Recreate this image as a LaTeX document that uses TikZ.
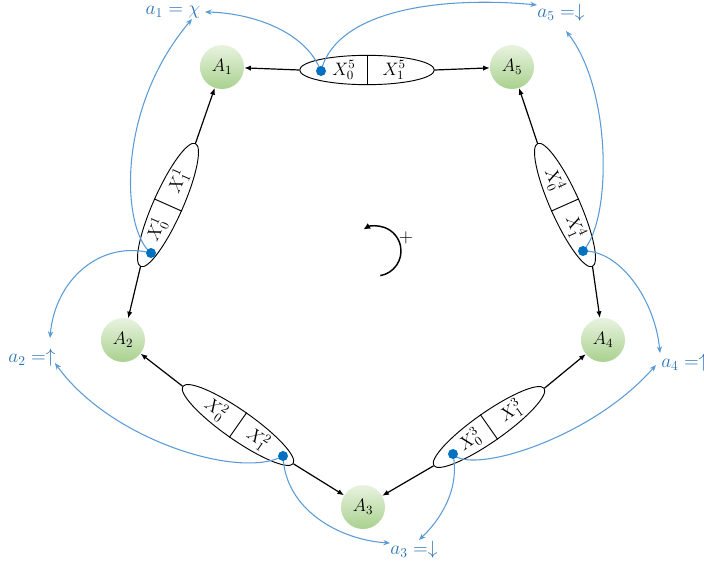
\RequirePackage{fix-cm}
\documentclass[tikz,border=0pt]{standalone}
\usepackage{amsmath}
\usepackage{amssymb}
\usepackage{tikz}
\usetikzlibrary{calc}
\usetikzlibrary{arrows.meta}
\usetikzlibrary{shapes.geometric}

\definecolor{linkblue}{HTML}{5B9BD5}
\definecolor{labelblue}{HTML}{2E75B6}
\definecolor{dotblue}{HTML}{0070C0}
\definecolor{agentlight}{HTML}{E8F3E0}
\definecolor{agentdark}{HTML}{A9D18E}

\tikzset{
  agent/.style={circle,minimum size=33pt,inner sep=0pt,top color=agentlight,bottom color=agentdark,font=\fontsize{13.5}{15}\selectfont},
  pair/.style={ellipse,draw,line width=0.7pt,minimum width=101pt,minimum height=22pt,inner sep=0pt},
  cell/.style={font=\fontsize{13.5}{15}\selectfont,inner sep=0pt},
  flow/.style={-{Latex[length=5pt,width=4pt]},line width=0.9pt},
  link/.style={linkblue,line width=0.8pt,-{Stealth[length=5pt,width=4pt]}},
  pick/.style={circle,fill=dotblue,minimum size=7.5pt,inner sep=0pt},
  value/.style={labelblue,font=\fontsize{14.5}{16}\selectfont,inner sep=0pt}
}

\begin{document}
\begin{tikzpicture}[x=0.75pt,y=-0.75pt]
    \useasboundingbox (0,0) rectangle (704,567);

    \node[agent] (A1) at (222,67) {$A_1$};
    \node[agent] (A5) at (512,67) {$A_5$};
    \node[agent] (A2) at (123,340) {$A_2$};
    \node[agent] (A4) at (603,340) {$A_4$};
    \node[agent] (A3) at (363,507) {$A_3$};

    \node[pair] (E5) at (367,70) {};
    \node[pair,rotate=66] (E1) at (168,205) {};
    \node[pair,rotate=-35] (E2) at (238,425) {};
    \node[pair,rotate=35] (E3) at (489,427) {};
    \node[pair,rotate=-66] (E4) at (565,205) {};

    \draw[line width=0.7pt] (E5.north) -- (E5.south);
    \draw[line width=0.7pt] (E1.north) -- (E1.south);
    \draw[line width=0.7pt] (E2.north) -- (E2.south);
    \draw[line width=0.7pt] (E3.north) -- (E3.south);
    \draw[line width=0.7pt] (E4.north) -- (E4.south);

    \node[cell] (X50) at ($(E5.center)!0.34!(E5.west)$) {$X_0^5$};
    \node[cell] (X51) at ($(E5.center)!0.4!(E5.east)$) {$X_1^5$};
    \node[cell,rotate=66] (X10) at ($(E1.center)!0.4!(E1.west)$) {$X_0^1$};
    \node[cell,rotate=66] (X11) at ($(E1.center)!0.38!(E1.east)$) {$X_1^1$};
    \node[cell,rotate=-35] (X20) at ($(E2.center)!0.4!(E2.west)$) {$X_0^2$};
    \node[cell,rotate=-35] (X21) at ($(E2.center)!0.36!(E2.east)$) {$X_1^2$};
    \node[cell,rotate=35] (X30) at ($(E3.center)!0.34!(E3.west)$) {$X_0^3$};
    \node[cell,rotate=35] (X31) at ($(E3.center)!0.4!(E3.east)$) {$X_1^3$};
    \node[cell,rotate=-66] (X40) at ($(E4.center)!0.4!(E4.west)$) {$X_0^4$};
    \node[cell,rotate=-66] (X41) at ($(E4.center)!0.36!(E4.east)$) {$X_1^4$};

    \draw[flow] (E5.west) -- (A1);
    \draw[flow] (E5.east) -- (A5);
    \draw[flow] (E1.east) -- (A1);
    \draw[flow] (E1.west) -- (A2);
    \draw[flow] (E2.west) -- (A2);
    \draw[flow] (E2.east) -- (A3);
    \draw[flow] (E3.west) -- (A3);
    \draw[flow] (E3.east) -- (A4);
    \draw[flow] (E4.west) -- (A5);
    \draw[flow] (E4.east) -- (A4);

    \node[value] (a1) at (173,12) {$a_1 = \chi$};
    \node[value] (a5) at (561,13) {$a_5 =\downarrow$};
    \node[value] (a2) at (32,358) {$a_2 =\uparrow$};
    \node[value] (a3) at (414,550) {$a_3 =\downarrow$};
    \node[value,anchor=west] (a4) at (661,363) {$a_4 =\uparrow$};

    \coordinate (D5) at (321,71);
    \coordinate (D1) at (151,253);
    \coordinate (D2) at (283,456);
    \coordinate (D3) at (453,454);
    \coordinate (D4) at (583,251);

    \draw[link] (D5) .. controls (305,30) and (250,13) .. ([shift={(32,0)}]a1.center);
    \draw[link] (D5) .. controls (338,5) and (455,-3) .. ([shift={(-24,-8)}]a5.center);
    \draw[link] (D1) .. controls (122,230) and (115,110) .. ([shift={(19,7)}]a1.center);
    \draw[link] (D1) .. controls (100,240) and (55,280) .. ([shift={(18,-20)}]a2.center);
    \draw[link] (D2) .. controls (240,480) and (110,440) .. ([shift={(23,5)}]a2.center);
    \draw[link] (D2) .. controls (285,510) and (340,540) .. ([shift={(-24,-7)}]a3.center);
    \draw[link] (D3) .. controls (460,490) and (440,520) .. ([shift={(5,-10)}]a3.center);
    \draw[link] (D3) .. controls (470,475) and (590,440) .. ([shift={(-5,2)}]a4.west);
    \draw[link] (D4) .. controls (612,220) and (612,90) .. ([shift={(5,18)}]a5.center);
    \draw[link] (D4) .. controls (620,250) and (655,300) .. ([shift={(-1,-10)}]a4.west);

    \node[pick] (P5) at (D5) {};
    \node[pick] (P1) at (D1) {};
    \node[pick] (P2) at (D2) {};
    \node[pick] (P3) at (D3) {};
    \node[pick] (P4) at (D4) {};

    \draw[line width=1.1pt,-{Latex[length=5pt,width=5pt]}] (376,251) ++(80:25) arc[start angle=80,end angle=-120,radius=25];
    \node[font=\fontsize{14}{15}\selectfont] (plus) at (406,238) {$+$};
\end{tikzpicture}
\end{document}
